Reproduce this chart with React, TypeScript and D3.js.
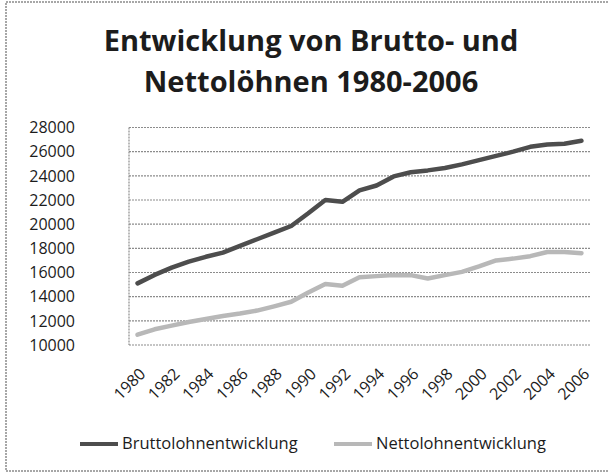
import React, { useRef, useEffect } from "react";
import * as d3 from "d3";

const years = d3.range(1980, 2007).map(String);

const brutto = [
  15100, 15800, 16400, 16900, 17300, 17650, 18200, 18750, 19300, 19850,
  20900, 22000, 21850, 22800, 23200, 23950, 24300, 24450, 24650, 24950,
  25300, 25650, 26000, 26400, 26600, 26650, 26900,
];

const netto = [
  10850, 11300, 11600, 11900, 12150, 12400, 12600, 12850, 13200, 13580,
  14350, 15050, 14900, 15600, 15700, 15800, 15780, 15500, 15780, 16050,
  16500, 17000, 17150, 17350, 17700, 17700, 17600,
];

const yTicks = [10000, 12000, 14000, 16000, 18000, 20000, 22000, 24000, 26000, 28000];
const xLabels = years.filter((d, i) => i % 2 === 0);

const seriesNames = ["Bruttolohnentwicklung", "Nettolohnentwicklung"];
const titleLines = ["Entwicklung von Brutto- und", "Nettolöhnen 1980-2006"];

const App = () => {
  const svgRef = useRef<SVGSVGElement>(null);

  useEffect(() => {
    document.body.style.margin = "0";
    const svg = d3.select(svgRef.current);
    svg.selectAll("*").remove();

    const width = 608,
      height = 472,
      plot = { left: 129, right: 590, top: 127.5, bottom: 345 },
      font = "'Open Sans', 'Noto Sans', sans-serif",
      textColor = "#1c1c1c",
      colors = ["#4d4d4d", "#b8b8b8"];

    svg.append("rect").attr("width", width).attr("height", height).attr("fill", "#fff");

    // outer frame
    svg
      .append("path")
      .attr("d", `M${width},2H6V471H${width}`)
      .attr("fill", "none")
      .attr("stroke", "#8a8a8a")
      .attr("stroke-width", 1.5)
      .attr("stroke-dasharray", "2,1");

    // title
    svg
      .append("g")
      .selectAll("text")
      .data(titleLines)
      .enter()
      .append("text")
      .attr("x", 311)
      .attr("y", (d, i) => 51 + i * 41)
      .attr("text-anchor", "middle")
      .attr("font-family", font)
      .attr("font-weight", "bold")
      .attr("font-size", 29)
      .attr("fill", textColor)
      .text((d) => d);

    const xScale = d3.scaleBand().domain(years).range([plot.left, plot.right]).padding(0);
    const yScale = d3.scaleLinear().domain([10000, 28000]).range([plot.bottom, plot.top]);
    const xc = (d: string) => (xScale(d) as number) + xScale.bandwidth() / 2;

    // gridlines
    svg
      .append("g")
      .selectAll("line")
      .data(yTicks)
      .enter()
      .append("line")
      .attr("x1", plot.left)
      .attr("x2", plot.right)
      .attr("y1", (d) => yScale(d))
      .attr("y2", (d) => yScale(d))
      .attr("stroke", "#8c8c8c")
      .attr("stroke-width", 1.2)
      .attr("stroke-dasharray", "2,1");

    // left axis line
    svg
      .append("line")
      .attr("x1", plot.left)
      .attr("x2", plot.left)
      .attr("y1", plot.top)
      .attr("y2", plot.bottom)
      .attr("stroke", "#8c8c8c")
      .attr("stroke-width", 1.2)
      .attr("stroke-dasharray", "2,1");

    // y labels
    svg
      .append("g")
      .selectAll("text")
      .data(yTicks)
      .enter()
      .append("text")
      .attr("x", 75)
      .attr("y", (d) => yScale(d))
      .attr("dy", "0.36em")
      .attr("text-anchor", "end")
      .attr("font-family", font)
      .attr("font-size", 16)
      .attr("fill", textColor)
      .text((d) => d);

    // x labels
    svg
      .append("g")
      .selectAll("text")
      .data(xLabels)
      .enter()
      .append("text")
      .attr("transform", (d) => `translate(${xc(d) + 1},${367}) rotate(-45)`)
      .attr("text-anchor", "end")
      .attr("dy", "0.7em")
      .attr("font-family", font)
      .attr("font-size", 16)
      .attr("fill", textColor)
      .text((d) => d);

    // lines
    const line = d3
      .line<number>()
      .x((d, i) => xc(years[i]))
      .y((d) => yScale(d));

    [brutto, netto].forEach((s, k) => {
      svg
        .append("path")
        .datum(s)
        .attr("d", line)
        .attr("fill", "none")
        .attr("stroke", colors[k])
        .attr("stroke-width", 4.5)
        .attr("stroke-linejoin", "round")
        .attr("stroke-linecap", "round");
    });

    // legend
    const legendX = [80, 334];
    const legend = svg
      .append("g")
      .selectAll("g")
      .data(seriesNames)
      .enter()
      .append("g")
      .attr("transform", (d, i) => `translate(${legendX[i]},444)`);
    legend
      .append("line")
      .attr("x1", 0)
      .attr("x2", 38)
      .attr("stroke", (d, i) => colors[i])
      .attr("stroke-width", 4);
    legend
      .append("text")
      .attr("x", 42)
      .attr("dy", "0.33em")
      .attr("font-family", font)
      .attr("font-size", 16.5)
      .attr("fill", textColor)
      .text((d) => d);
  }, []);

  return <svg ref={svgRef} width={608} height={472} style={{ display: "block" }}></svg>;
};

export default App;
